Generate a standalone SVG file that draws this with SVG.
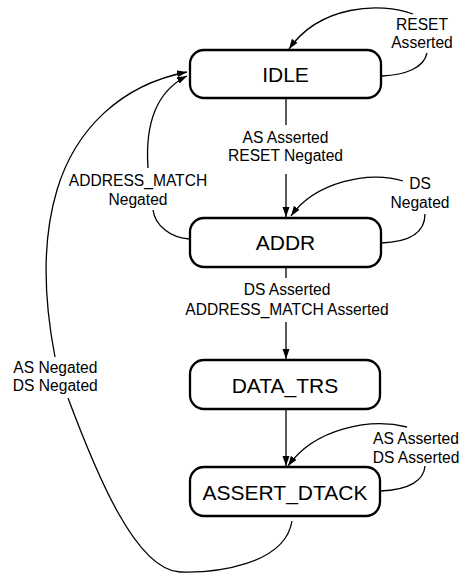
<svg xmlns="http://www.w3.org/2000/svg" width="465" height="574" viewBox="0 0 465 574">
<style>
.node rect{fill:#fff;stroke:#000;stroke-width:2.3}
.node text{font-family:"Liberation Sans",Arial,sans-serif;font-size:21px;text-anchor:middle;fill:#000}
.lbl{font-family:"Liberation Sans",Arial,sans-serif;font-size:15.6px;text-anchor:middle;fill:#000}
#connectors path{fill:none;stroke:#000;stroke-width:1.3}
</style>
<defs>
<marker id="arr" markerUnits="userSpaceOnUse" markerWidth="11" markerHeight="8" refX="10" refY="3.5" orient="auto">
<path d="M0,0 L10,3.5 L0,7 z" fill="#000"/>
</marker>
</defs>
<rect width="465" height="574" fill="#fff"/>
<g id="connectors">
<path d="M286,98 V125"/>
<path d="M286,174 V217" marker-end="url(#arr)"/>
<path d="M286,267 V278"/>
<path d="M286,322 V359" marker-end="url(#arr)"/>
<path d="M286,409 V466" marker-end="url(#arr)"/>
<path d="M382,76 C405,75 424,68 427,53"/>
<path d="M413,14 C380,2 320,5 289,49" marker-end="url(#arr)"/>
<path d="M381,243 C410,242 425,232 425,214"/>
<path d="M403,181 C370,170 315,182 291,216" marker-end="url(#arr)"/>
<path d="M380,491 C410,490 424,480 425,466"/>
<path d="M407,427 C370,418 315,428 288,466" marker-end="url(#arr)"/>
<path d="M190,239 C170,238 155,225 153,210"/>
<path d="M148,168 C145,125 155,92 187,76" marker-end="url(#arr)"/>
<path d="M55,357 C44,300 42,240 57,190 C75,130 120,85 187,72" marker-end="url(#arr)"/>
<path d="M68,398 C95,470 135,570 180,572 C215,573 285,565 292,521"/>
</g>
<g id="labels">
<text class="lbl" x="422" y="30">RESET</text>
<text class="lbl" x="422" y="47.5">Asserted</text>
<text class="lbl" x="285.5" y="142.5">AS Asserted</text>
<text class="lbl" x="285.5" y="160.5">RESET Negated</text>
<text class="lbl" x="138" y="186">ADDRESS_MATCH</text>
<text class="lbl" x="138" y="205">Negated</text>
<text class="lbl" x="420" y="189.3">DS</text>
<text class="lbl" x="420" y="208.3">Negated</text>
<text class="lbl" x="287" y="295">DS Asserted</text>
<text class="lbl" x="287" y="314.5">ADDRESS_MATCH Asserted</text>
<text class="lbl" x="55.3" y="372.5">AS Negated</text>
<text class="lbl" x="55.3" y="390.5">DS Negated</text>
<text class="lbl" x="416" y="444.3">AS Asserted</text>
<text class="lbl" x="416" y="463.3">DS Asserted</text>
</g>
<g id="IDLE" class="node">
<rect x="190" y="50" width="191" height="48" rx="14" ry="14"/>
<text x="285.5" y="82">IDLE</text>
</g>
<g id="ADDR" class="node">
<rect x="190" y="218" width="191" height="49" rx="14" ry="14"/>
<text x="285.5" y="250">ADDR</text>
</g>
<g id="DATA_TRS" class="node">
<rect x="190" y="360" width="190" height="49" rx="14" ry="14"/>
<text x="285" y="392.5">DATA_TRS</text>
</g>
<g id="ASSERT_DTACK" class="node">
<rect x="190" y="467" width="190" height="49" rx="14" ry="14"/>
<text x="285" y="499.5">ASSERT_DTACK</text>
</g>
</svg>
